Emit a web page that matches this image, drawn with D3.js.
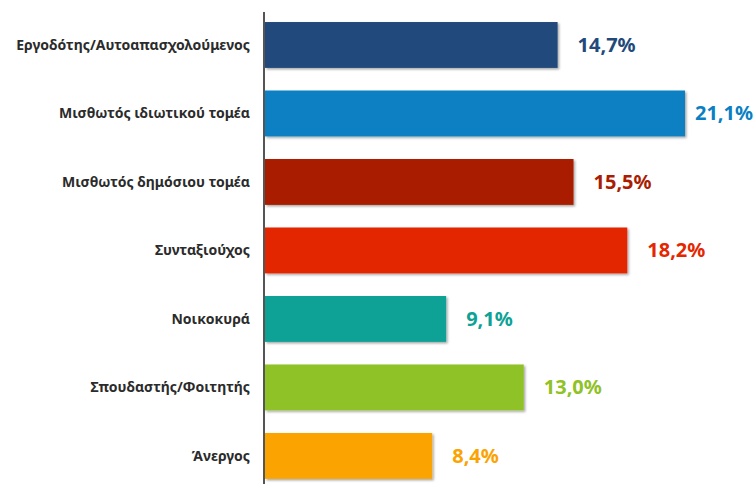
<!DOCTYPE html>
<html>
<head>
<meta charset="utf-8">
<style>
    body { margin: 0; background: #fff; }
    svg { display: block; font-family: 'Noto Sans', 'Open Sans', sans-serif; }
    .cat { font-size: 14px; font-weight: 700; fill: #2b2b2b; }
    .val { font-size: 20px; font-weight: 700; }
</style>
</head>
<body>
<svg width="754" height="484"></svg>
<script src="https://d3js.org/d3.v7.min.js"></script>
<script>
    // data
    const categories = [
        "Εργοδότης/Αυτοαπασχολούμενος",
        "Μισθωτός ιδιωτικού τομέα",
        "Μισθωτός δημόσιου τομέα",
        "Συνταξιούχος",
        "Νοικοκυρά",
        "Σπουδαστής/Φοιτητής",
        "Άνεργος"
    ];
    const values = [14.7, 21.1, 15.5, 18.2, 9.1, 13.0, 8.4];
    const colors = ["#22497b", "#0a7fc3", "#a91e03", "#e42700", "#0ca295", "#8fc225", "#fba300"];

    const width = 754, height = 484;
    const svg = d3.select("svg");

    // small shadow under bars
    const defs = svg.append("defs");
    const f = defs.append("filter").attr("id", "shadow")
        .attr("x", "-5%").attr("y", "-10%").attr("width", "115%").attr("height", "130%");
    f.append("feDropShadow").attr("dx", 1.5).attr("dy", 1.5).attr("stdDeviation", 1)
        .attr("flood-color", "#000").attr("flood-opacity", 0.35);

    const x = d3.scaleLinear().domain([0, 21.1]).range([265, 685]);
    const y = d3.scaleBand().domain(categories).range([4.9, 496]).paddingInner(0.33).paddingOuter(0.25);

    const data = categories.map((c, i) => ({ cat: c, val: values[i], color: colors[i] }));

    svg.selectAll(".bar")
        .data(data)
        .join("rect")
        .attr("class", "bar")
        .attr("x", x(0))
        .attr("y", d => y(d.cat))
        .attr("width", d => x(d.val) - x(0))
        .attr("height", y.bandwidth())
        .attr("fill", d => d.color)
        .attr("filter", "url(#shadow)");

    // axis line
    svg.append("line")
        .attr("x1", x(0) - 1).attr("x2", x(0) - 1)
        .attr("y1", 12).attr("y2", height)
        .attr("stroke", "#555").attr("stroke-width", 2);

    svg.selectAll(".cat")
        .data(data)
        .join("text")
        .attr("class", "cat")
        .attr("x", 250)
        .attr("y", d => y(d.cat) + y.bandwidth() / 2)
        .attr("dy", "0.35em")
        .attr("text-anchor", "end")
        .text(d => d.cat);

    const fmt = v => v.toFixed(1).replace(".", ",") + "%";

    const vals = svg.selectAll(".val")
        .data(data)
        .join("text")
        .attr("class", "val")
        .attr("y", d => y(d.cat) + y.bandwidth() / 2)
        .attr("dy", "0.35em")
        .attr("fill", d => d.color)
        .text(d => fmt(d.val));

    // place labels after bar, keep inside the frame
    vals.attr("x", function (d) {
        const w = this.getComputedTextLength();
        return Math.min(x(d.val) + 20, width - w - 1);
    });
</script>
</body>
</html>
